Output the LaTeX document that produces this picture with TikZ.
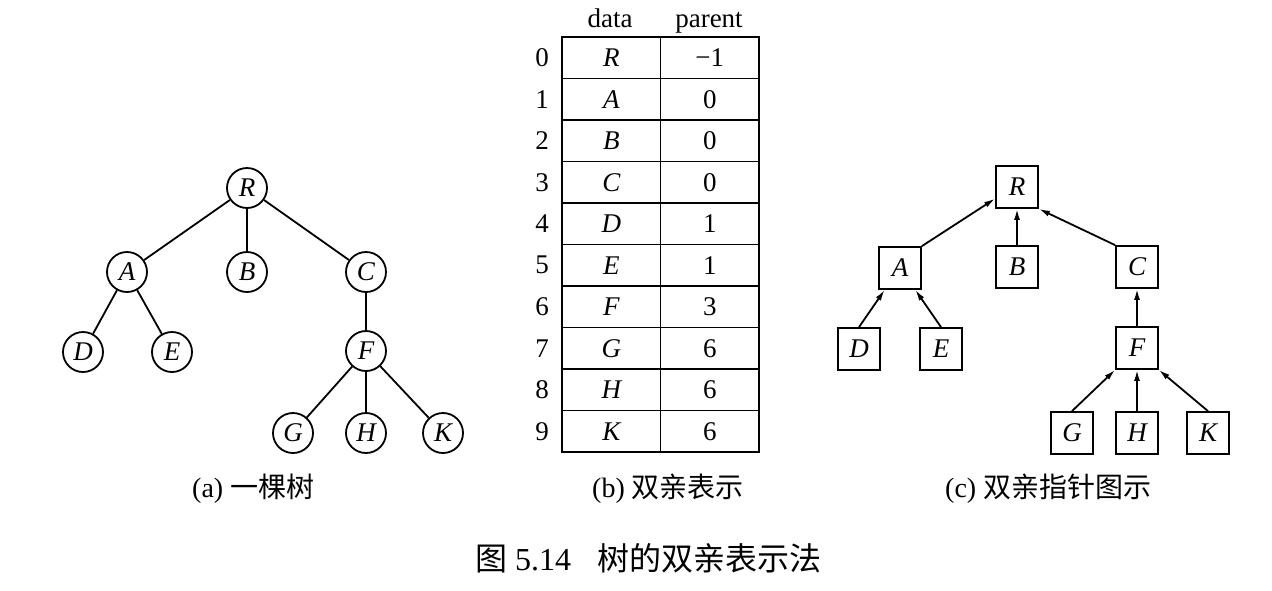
\documentclass[tikz,border=0pt]{standalone}
\usepackage{fontspec}
\setmainfont{Liberation Serif}
\newfontfamily\cjk{Noto Sans CJK SC}
\usetikzlibrary{arrows.meta}
\begin{document}
\begin{tikzpicture}[x=1pt,y=-1pt,
  every node/.style={text=black},
  tnode/.style={circle,draw,line width=1.8pt,minimum size=40pt,inner sep=0pt,
    font=\fontsize{27}{27}\selectfont\itshape},
  bnode/.style={rectangle,draw,line width=1.8pt,minimum size=42pt,inner sep=0pt,
    font=\fontsize{27}{27}\selectfont\itshape},
  tedge/.style={line width=1.8pt},
  ptr/.style={line width=1.8pt,-{Latex[length=11pt,width=6pt]}},
  cell/.style={rectangle,draw,line width=1.8pt,minimum width=98.5pt,minimum height=41.5pt,
    inner sep=0pt,font=\fontsize{27}{27}\selectfont},
  idx/.style={font=\fontsize{27}{27}\selectfont},
  hdr/.style={anchor=base,inner sep=0pt,font=\fontsize{27}{27}\selectfont},
  subcap/.style={anchor=west,inner sep=0pt,font=\fontsize{28}{28}\selectfont},
  maincap/.style={anchor=west,inner sep=0pt,font=\fontsize{32}{32}\selectfont}
]
\useasboundingbox (0,0) rectangle (1272,590);
\fill[white] (0,0) rectangle (1272,590);

% (a) tree
\node[tnode] (aR) at (247,188) {R};
\node[tnode] (aA) at (127,272) {A};
\node[tnode] (aB) at (247,272) {B};
\node[tnode] (aC) at (366,272) {C};
\node[tnode] (aD) at (83,352) {D};
\node[tnode] (aE) at (172,352) {E};
\node[tnode] (aF) at (366,351) {F};
\node[tnode] (aG) at (293,433) {G};
\node[tnode] (aH) at (366,433) {H};
\node[tnode] (aK) at (443,433) {K};
\draw[tedge] (aR) -- (aA);
\draw[tedge] (aR) -- (aB);
\draw[tedge] (aR) -- (aC);
\draw[tedge] (aA) -- (aD);
\draw[tedge] (aA) -- (aE);
\draw[tedge] (aC) -- (aF);
\draw[tedge] (aF) -- (aG);
\draw[tedge] (aF) -- (aH);
\draw[tedge] (aF) -- (aK);

% (b) table
\node[hdr] (hd) at (610,27) {data};
\node[hdr] (hp) at (709,27) {parent};
\foreach \i/\d/\p in {0/R/−1,1/A/0,2/B/0,3/C/0,4/D/1,5/E/1,6/F/3,7/G/6,8/H/6,9/K/6}{
  \node[cell] (d\i) at (611.25,{57.75+41.5*\i}) {\itshape\d};
  \node[cell] (p\i) at (709.75,{57.75+41.5*\i}) {\p};
  \node[idx] (i\i) at (542,{57.75+41.5*\i}) {\i};
}

% (c) parent pointer tree
\node[bnode] (cR) at (1017,187) {R};
\node[bnode] (cA) at (900,268) {A};
\node[bnode] (cB) at (1017,267) {B};
\node[bnode] (cC) at (1137,267) {C};
\node[bnode] (cD) at (859,349) {D};
\node[bnode] (cE) at (941,349) {E};
\node[bnode] (cF) at (1137,348) {F};
\node[bnode] (cG) at (1072,433) {G};
\node[bnode] (cH) at (1137,433) {H};
\node[bnode] (cK) at (1208,433) {K};
\draw[ptr] (cA.north east) -- (cR.-152);
\draw[ptr] (cB.north) -- (cR.south);
\draw[ptr] (cC.north west) -- (cR.south east);
\draw[ptr] (cD.north) -- (cA.-125);
\draw[ptr] (cE.north) -- (cA.-55);
\draw[ptr] (cF.north) -- (cC.south);
\draw[ptr] (cG.north) -- (cF.south west);
\draw[ptr] (cH.north) -- (cF.south);
\draw[ptr] (cK.north) -- (cF.south east);

% captions
\node[subcap] (capa) at (192,489) {(a) {\cjk 一棵树}};
\node[subcap] (capb) at (592,489) {(b) {\cjk 双亲表示}};
\node[subcap] (capc) at (945,489) {(c) {\cjk 双亲指针图示}};
\node[maincap] (cap) at (475,558) {{\cjk 图} 5.14\hspace{26pt}{\cjk 树的双亲表示法}};
\end{tikzpicture}
\end{document}
